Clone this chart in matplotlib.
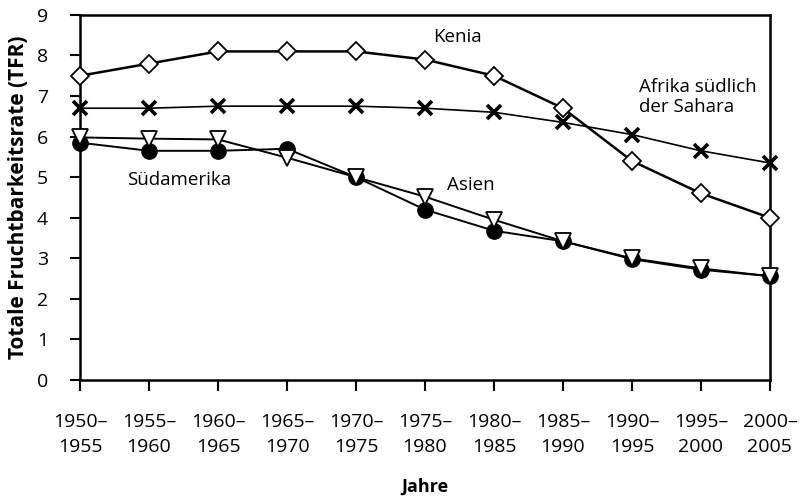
import matplotlib
matplotlib.use("Agg")
import matplotlib.pyplot as plt

plt.rcParams['font.family'] = ['Open Sans', 'DejaVu Sans']

periods = ["1950–\n1955", "1955–\n1960", "1960–\n1965", "1965–\n1970", "1970–\n1975",
           "1975–\n1980", "1980–\n1985", "1985–\n1990", "1990–\n1995", "1995–\n2000",
           "2000–\n2005"]
kenia = [7.5, 7.8, 8.1, 8.1, 8.1, 7.9, 7.5, 6.7, 5.4, 4.6, 4.0]
afrika = [6.7, 6.7, 6.75, 6.75, 6.75, 6.7, 6.6, 6.35, 6.05, 5.65, 5.35]
suedamerika = [5.85, 5.65, 5.65, 5.7, 5.0, 4.2, 3.68, 3.42, 2.98, 2.72, 2.56]
asien = [5.98, 5.95, 5.93, 5.48, 5.0, 4.52, 3.95, 3.42, 3.0, 2.75, 2.56]

x = list(range(len(periods)))

fig = plt.figure(figsize=(8.02, 4.97), dpi=100)
ax = fig.add_axes([0.0998, 0.2354, 0.8602, 0.7346])

ax.plot(x, kenia, color='black', lw=1.8, marker='D', markersize=9,
        markerfacecolor='white', markeredgecolor='black', markeredgewidth=1.3, zorder=3)
ax.plot(x, afrika, color='black', lw=1.2, marker='x', markersize=10,
        markeredgewidth=2.6, zorder=3)
ax.plot(x, suedamerika, color='black', lw=1.4, marker='o', markersize=11,
        markerfacecolor='black', markeredgecolor='black', zorder=4)
ax.plot(x, asien, color='black', lw=1.4, marker='v', markersize=12,
        markerfacecolor='white', markeredgecolor='black', markeredgewidth=1.3, zorder=5)

ax.set_xlim(0, len(periods) - 1)
ax.set_ylim(0, 9)
ax.set_xticks(x)
ax.set_xticklabels(periods, fontsize=14, linespacing=1.45)
ax.set_yticks(range(10))
ax.tick_params(axis='y', labelsize=14, direction='out', length=7, width=1.5, pad=16)
ax.tick_params(axis='x', direction='out', length=8, width=1.5, pad=16)
for s in ax.spines.values():
    s.set_linewidth(1.8)
for line in ax.lines:
    line.set_clip_on(False)

ax.set_ylabel("Totale Fruchtbarkeitsrate (TFR)", fontsize=15, fontweight='bold', labelpad=6)
ax.set_xlabel("Jahre", fontsize=13, fontweight='bold', labelpad=16)

ax.text(5.12, 8.45, "Kenia", fontsize=13.5, va='center', ha='left')
ax.text(8.1, 6.98, "Afrika südlich\nder Sahara", fontsize=13.5, va='center', ha='left',
        linespacing=1.1)
ax.text(0.68, 4.93, "Südamerika", fontsize=13.5, va='center', ha='left')
ax.text(5.32, 4.8, "Asien", fontsize=13.5, va='center', ha='left')

fig.savefig("out.png", dpi=100)
